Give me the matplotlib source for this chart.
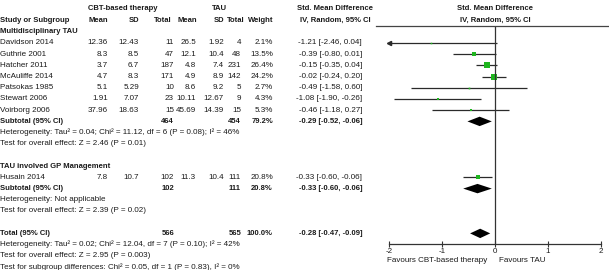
import matplotlib
matplotlib.use("Agg")
import matplotlib.pyplot as plt

plt.rcParams["font.family"] = ["Liberation Sans", "DejaVu Sans"]
plt.rcParams["axes.unicode_minus"] = False

# data
group1_label = "Multidisciplinary TAU"
group1_studies = ["Davidson 2014", "Guthrie 2001", "Hatcher 2011", "McAuliffe 2014",
                  "Patsokas 1985", "Stewart 2006", "Voirborg 2006"]
group1_cbt_mean = ["12.36", "8.3", "3.7", "4.7", "5.1", "1.91", "37.96"]
group1_cbt_sd = ["12.43", "8.5", "6.7", "8.3", "5.29", "7.07", "18.63"]
group1_cbt_n = [11, 47, 187, 171, 10, 23, 15]
group1_tau_mean = ["26.5", "12.1", "4.8", "4.9", "8.6", "10.11", "45.69"]
group1_tau_sd = ["1.92", "10.4", "7.4", "8.9", "9.2", "12.67", "14.39"]
group1_tau_n = [4, 48, 231, 142, 5, 9, 15]
group1_weight = [2.1, 13.5, 26.4, 24.2, 2.7, 4.3, 5.3]
group1_smd = [-1.21, -0.39, -0.15, -0.02, -0.49, -1.08, -0.46]
group1_lo = [-2.46, -0.80, -0.35, -0.24, -1.58, -1.90, -1.18]
group1_hi = [0.04, 0.01, 0.04, 0.20, 0.60, -0.26, 0.27]
group1_sub = (-0.29, -0.52, -0.06)
group1_sub_weight = 79.2
group1_het = "Heterogeneity: Tau² = 0.04; Chi² = 11.12, df = 6 (P = 0.08); I² = 46%"
group1_test = "Test for overall effect: Z = 2.46 (P = 0.01)"

group2_label = "TAU involved GP Management"
group2_studies = ["Husain 2014"]
group2_cbt_mean = ["7.8"]
group2_cbt_sd = ["10.7"]
group2_cbt_n = [102]
group2_tau_mean = ["11.3"]
group2_tau_sd = ["10.4"]
group2_tau_n = [111]
group2_weight = [20.8]
group2_smd = [-0.33]
group2_lo = [-0.60]
group2_hi = [-0.06]
group2_sub = (-0.33, -0.60, -0.06)
group2_sub_weight = 20.8
group2_het = "Heterogeneity: Not applicable"
group2_test = "Test for overall effect: Z = 2.39 (P = 0.02)"

total_smd = (-0.28, -0.47, -0.09)
total_het = "Heterogeneity: Tau² = 0.02; Chi² = 12.04, df = 7 (P = 0.10); I² = 42%"
total_test = "Test for overall effect: Z = 2.95 (P = 0.003)"
subgroup_test = "Test for subgroup differences: Chi² = 0.05, df = 1 (P = 0.83), I² = 0%"

x_ticks = [-2, -1, 0, 1, 2]
favours_left = "Favours CBT-based therapy"
favours_right = "Favours TAU"

# layout (pixels)
W, H = 609, 270
ROW0, STEP = 43.0, 11.2
FS = 5.8
FS_B = 5.5
TXT = "#1a1a1a"
GREEN = "#1fb51f"


def row_px(k):
    return ROW0 + STEP * k


fig = plt.figure(figsize=(W / 100, H / 100), dpi=100)


def put(x, k, s, ha="left", bold=False, ypx=None):
    y = row_px(k) if ypx is None else ypx
    fig.text(x / W, 1 - y / H, s, ha=ha, va="center",
             fontsize=FS_B if bold else FS,
             fontweight="bold" if bold else "normal", color=TXT)


def ci_text(e, lo, hi):
    return f"{e:.2f} [{lo:.2f}, {hi:.2f}]"


# header
put(123, 0, "CBT-based therapy", ha="center", bold=True, ypx=8)
put(219, 0, "TAU", ha="center", bold=True, ypx=8)
put(335, 0, "Std. Mean Difference", ha="center", bold=True, ypx=8)
put(495, 0, "Std. Mean Difference", ha="center", bold=True, ypx=8)
for x, s, ha in [(0, "Study or Subgroup", "left"), (108, "Mean", "right"),
                 (139, "SD", "right"), (172, "Total", "right"),
                 (197, "Mean", "right"), (224, "SD", "right"),
                 (245, "Total", "right"), (273, "Weight", "right"),
                 (335, "IV, Random, 95% CI", "center"),
                 (495, "IV, Random, 95% CI", "center")]:
    put(x, -2, s, ha=ha, bold=True)

cols = [108, 139, 174, 196, 224, 241, 273, 362]

ax = fig.add_axes([389 / W, 1 - 244 / H, 212 / W, 218 / H])
ax.set_xlim(-2, 2)
ax.set_ylim((244 - ROW0) / STEP, (26 - ROW0) / STEP)


def draw_group(start, label, studies, cm, csd, cn, tm, tsd, tn, w, e, lo, hi,
               sub, subw, het, test):
    put(0, start, label, bold=True)
    for i, name in enumerate(studies):
        k = start + 1 + i
        put(0, k, name)
        vals = [cm[i], csd[i], str(cn[i]), tm[i], tsd[i], str(tn[i]),
                f"{w[i]:.1f}%", ci_text(e[i], lo[i], hi[i])]
        for x, v in zip(cols, vals):
            put(x, k, v, ha="right")
        left = max(lo[i], -2)
        ax.plot([left, min(hi[i], 2)], [k, k], color="#2a2a2a", lw=0.9,
                solid_capstyle="butt")
        if lo[i] < -2:
            ax.plot([-2], [k], marker="<", ms=3, color="#2a2a2a",
                    clip_on=False)
        ax.plot([e[i]], [k], marker="s", ms=0.75 * w[i] ** 0.5,
                color=GREEN, mew=0)
    k = start + 1 + len(studies)
    put(0, k, "Subtotal (95% CI)", bold=True)
    put(cols[2], k, str(sum(cn)), ha="right", bold=True)
    put(cols[5], k, str(sum(tn)), ha="right", bold=True)
    put(cols[6], k, f"{subw:.1f}%", ha="right", bold=True)
    put(cols[7], k, ci_text(*sub), ha="right", bold=True)
    ax.fill([sub[1], sub[0], sub[2], sub[0]], [k, k - 0.42, k, k + 0.42],
            color="black", lw=0)
    put(0, k + 1, het)
    put(0, k + 2, test)


draw_group(-1, group1_label, group1_studies, group1_cbt_mean, group1_cbt_sd,
           group1_cbt_n, group1_tau_mean, group1_tau_sd, group1_tau_n,
           group1_weight, group1_smd, group1_lo, group1_hi, group1_sub,
           group1_sub_weight, group1_het, group1_test)
draw_group(11, group2_label, group2_studies, group2_cbt_mean, group2_cbt_sd,
           group2_cbt_n, group2_tau_mean, group2_tau_sd, group2_tau_n,
           group2_weight, group2_smd, group2_lo, group2_hi, group2_sub,
           group2_sub_weight, group2_het, group2_test)

# overall
kt = 17
put(0, kt, "Total (95% CI)", bold=True)
put(cols[2], kt, str(sum(group1_cbt_n) + sum(group2_cbt_n)), ha="right", bold=True)
put(cols[5], kt, str(sum(group1_tau_n) + sum(group2_tau_n)), ha="right", bold=True)
put(cols[6], kt, "100.0%", ha="right", bold=True)
put(cols[7], kt, ci_text(*total_smd), ha="right", bold=True)
ax.fill([total_smd[1], total_smd[0], total_smd[2], total_smd[0]],
        [kt, kt - 0.42, kt, kt + 0.42], color="black", lw=0)
put(0, kt + 1, total_het)
put(0, kt + 2, total_test)
put(0, kt + 3, subgroup_test)

# axes styling
ax.axvline(0, color="#333333", lw=0.9)
ax.axhline(ax.get_ylim()[1], xmin=(376 - 389) / 212, xmax=(609 - 389) / 212,
           color="#444444", lw=0.9, clip_on=False)
for side in ["top", "left", "right"]:
    ax.spines[side].set_visible(False)
ax.spines["bottom"].set_color("#333333")
ax.spines["bottom"].set_linewidth(0.9)
ax.set_yticks([])
ax.set_xticks(x_ticks)
ax.tick_params(axis="x", direction="inout", length=5, width=0.8, pad=0.5,
               labelsize=FS, colors="#333333", labelcolor=TXT)
ax.patch.set_alpha(0)

put(487, 0, favours_left, ha="right", ypx=260)
put(499, 0, favours_right, ha="left", ypx=260)

fig.savefig("out.png", dpi=100)
